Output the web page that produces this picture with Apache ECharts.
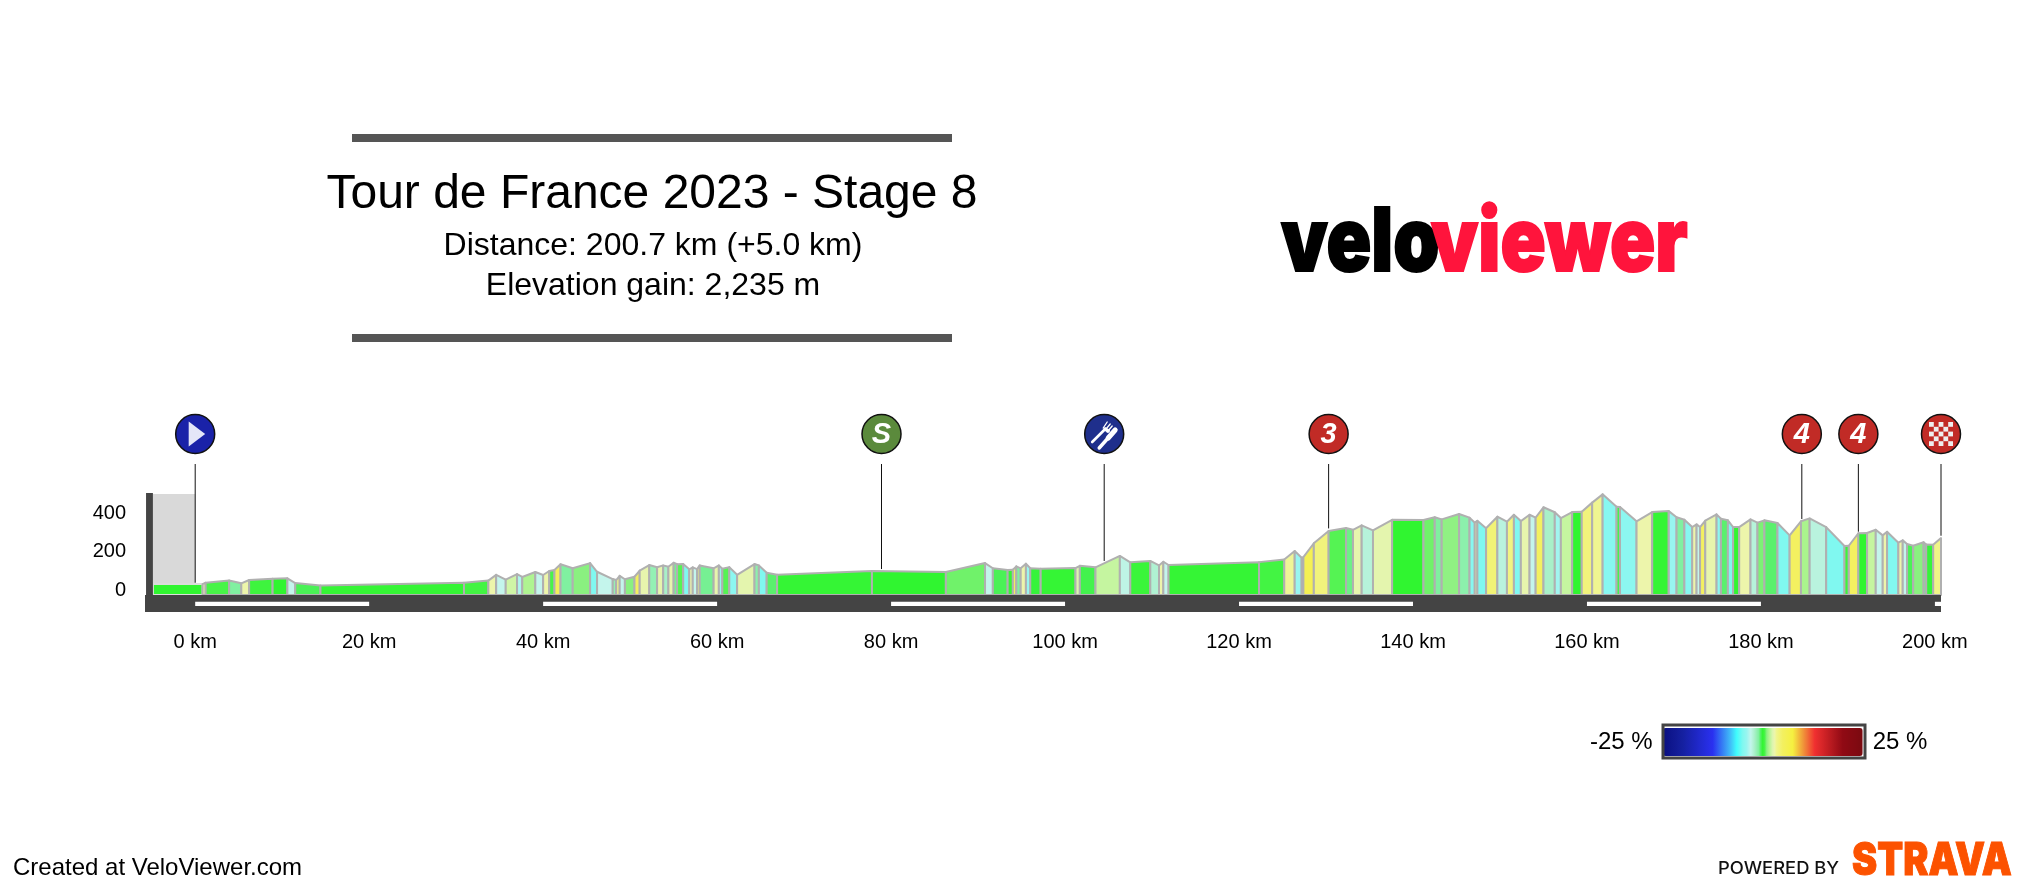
<!DOCTYPE html>
<html>
<head>
<meta charset="utf-8">
<title>Tour de France 2023 - Stage 8</title>
<script src="https://cdn.jsdelivr.net/npm/echarts@6/dist/echarts.min.js"></script>
<style>
  html, body { margin: 0; padding: 0; background: #fff; }
  #chart { width: 2032px; height: 894px; }
</style>
</head>
<body>
<div id="chart"></div>
<script>
// distance along the stage (km) at each profile break
var kmStops = [-4.86, 0.85, 1.2, 3.9, 5.3, 6.2, 8.9, 10.6, 11.5, 14.4, 30.9, 33.7, 34.6, 35.7, 37.0, 37.6, 39.1, 40.0, 40.7, 41.3, 42.0, 43.4, 45.4, 46.2, 48.0, 48.4, 48.8, 49.4, 50.5, 51.1, 52.2, 53.1, 53.8, 54.4, 55.0, 55.4, 56.1, 56.8, 57.2, 57.7, 58.0, 59.6, 60.2, 60.6, 61.4, 62.3, 64.3, 64.8, 65.7, 66.9, 77.8, 86.3, 90.8, 91.7, 93.4, 94.0, 94.4, 94.9, 95.5, 96.0, 97.2, 101.2, 101.7, 103.5, 106.3, 107.5, 109.8, 110.8, 111.3, 111.9, 122.3, 125.2, 126.4, 127.2, 127.4, 128.6, 130.3, 132.3, 133.1, 134.1, 135.4, 137.6, 141.2, 142.5, 143.3, 145.3, 146.5, 147.1, 147.4, 148.4, 149.7, 150.8, 151.6, 152.4, 153.4, 154.1, 155.0, 156.3, 157.0, 158.3, 159.4, 160.6, 161.8, 163.4, 163.8, 165.7, 167.5, 169.4, 170.3, 171.2, 172.1, 172.6, 173.0, 173.6, 174.9, 175.4, 176.2, 176.8, 177.5, 178.8, 179.6, 180.4, 181.9, 183.3, 184.6, 185.6, 187.5, 189.6, 190.1, 191.2, 192.2, 193.2, 194.0, 194.5, 195.8, 196.3, 196.8, 197.5, 198.7, 199.0, 199.8, 200.7];
// elevation (m) at each break
var elevations = [31, 31, 38, 50, 35, 52, 59, 61, 36, 24, 38, 49, 79, 54, 83, 68, 94, 78, 99, 104, 134, 113, 140, 95, 57, 52, 74, 56, 69, 101, 130, 118, 128, 121, 142, 134, 135, 108, 118, 109, 128, 113, 128, 111, 119, 79, 135, 128, 90, 79, 99, 94, 140, 113, 104, 105, 123, 113, 137, 113, 111, 114, 126, 118, 177, 144, 151, 128, 147, 130, 145, 159, 203, 168, 171, 243, 307, 322, 313, 336, 310, 365, 364, 378, 367, 395, 376, 350, 360, 321, 381, 355, 391, 358, 391, 376, 430, 404, 374, 405, 407, 454, 497, 433, 431, 357, 405, 410, 378, 365, 327, 341, 327, 360, 393, 370, 362, 327, 327, 367, 350, 362, 348, 284, 357, 372, 327, 229, 230, 295, 296, 313, 284, 303, 246, 258, 239, 230, 248, 237, 235, 270];
// gradient (%) of the segment that ends at each following break
var grades = [0, 3, 0.5, -1, 3, 0.3, 0, -3, -0.4, 0.1, 0.4, 3, -3, 2.2, -3.5, 1.6, -3, 3, 0.5, 5.5, -1, 1, -5, -3, -1.5, 3.5, -3, 1, 5, 2.8, -1.5, 2.8, -2, 2.8, -0.9, 0.6, -5, 3, -3, 4, -0.9, 2.8, -4, 0.6, -4.5, 2.7, -1.3, -5, -0.6, 0.1, 0, 0.8, -3, -0.4, 0.1, 5, -1, 3, -4, -0.1, 0.1, 2.5, -0.3, 2, -2.8, 0.2, -2.3, 3, -3, 0.1, 0.4, 3.3, -4, 0.5, 6, 4, 0.6, -0.8, 2.8, -2.5, 2.7, 0, 0.8, -1, 1.1, -1.3, -4.7, 3, -5, 4.2, -2.6, 3.8, -5, 2.8, -3, 5, -2, -3.8, 2, 0, 4, 3.4, -4.7, -0.3, -4.5, 3, 0.1, -4, -1, -4.7, 3, -3, 5, 2.8, -4.6, -0.6, -5, 0, 3, -2.5, 0.9, -0.6, -5, 5, 1.5, -2.6, -5, 0.2, 5, 0, 2, -3, 3, -4.9, 3, -3, -0.4, 1, -0.9, -0.1, 3.6];

var kmTicks = [0, 20, 40, 60, 80, 100, 120, 140, 160, 180, 200];
var elevTicks = [0, 200, 400];
var kmStripes = [[0, 20], [40, 60], [80, 100], [120, 140], [160, 180], [200, 200.7]];
var neutralZone = [-4.86, 0];

var markerKm = [0, 78.9, 104.5, 130.3, 184.7, 191.2, 200.7];
var markerElev = [38, 109, 151, 320, 369, 303, 282];
var markerKind = ['start', 'sprint', 'feed', '3', '4', '4', 'finish'];

// grade -> colour stops
var rampGrades = [-25, -20, -12.5, -8, -6.5, -5, -4, -3, -2, -1, -0.5, 0, 0.5, 1, 1.6, 2.2, 2.8, 3.5, 5, 7.5, 10, 13, 20, 25];
var rampColors = ['#0a0f80', '#1520a0', '#2a30f0', '#40c0f8', '#40fcfc', '#80f8f0', '#98f5f0', '#c4f5ec', '#a8f0c8', '#80f0a0', '#50f060', '#30f530', '#48f448', '#8af080', '#b0f590', '#d0f5a8', '#ecf5b8', '#f0f58a', '#f3f060', '#f5f040', '#f09a3a', '#f03030', '#900a14', '#7a0a10'];

var FONT = '"Liberation Sans", Arial, sans-serif';
var HEAVY = 'Inter, Lato, "Liberation Sans", sans-serif';
var KM_MIN = -5.77, KM_MAX = 200.7, ELEV_MIN = -114, ELEV_MAX = 504;
var BASE_ELEV = -26;   // top of the dark road band
var STRIPE_TOP = -61, STRIPE_BOTTOM = -83;
var NEUTRAL_TOP = 499;
var MARKER_Y = 434, MARKER_R = 19.5, STEM_TOP = 464;

function expandRamp() {
  var out = [];
  for (var g = -25; g <= 25; g += 0.5) {
    var i = 0;
    while (i < rampGrades.length - 2 && g > rampGrades[i + 1]) i++;
    var t = (g - rampGrades[i]) / (rampGrades[i + 1] - rampGrades[i]);
    out.push(echarts.color.lerp(t, [rampColors[i], rampColors[i + 1]]));
  }
  return out;
}

var segments = grades.map(function (g, i) {
  return [kmStops[i], kmStops[i + 1], elevations[i], elevations[i + 1], g];
});
var markers = markerKm.map(function (km, i) { return [km, markerElev[i], i]; });

function box(api, x0, y0, x1, y1, fill) {
  var a = api.coord([x0, y0]), b = api.coord([x1, y1]);
  return {
    type: 'rect',
    shape: { x: a[0], y: a[1], width: b[0] - a[0], height: b[1] - a[1] },
    style: { fill: fill }
  };
}

function renderNeutral(params, api) {
  return box(api, neutralZone[0], NEUTRAL_TOP, neutralZone[1], elevations[0], '#d9d9d9');
}

function renderSegment(params, api) {
  var x0 = api.value(0), x1 = api.value(1);
  var a = api.coord([x0, api.value(2)]), b = api.coord([x1, api.value(3)]);
  var c = api.coord([x1, BASE_ELEV]), d = api.coord([x0, BASE_ELEV]);
  return {
    type: 'polygon',
    shape: { points: [a, b, c, d] },
    style: {
      fill: api.visual('color'),
      stroke: params.dataIndex === 0 ? '#dcdcdc' : '#b0b0b0',
      lineWidth: 2,
      lineJoin: 'round'
    }
  };
}

function renderFrame(params, api) {
  return {
    type: 'group',
    children: [
      box(api, KM_MIN, BASE_ELEV, KM_MAX, ELEV_MIN, '#444'),
      box(api, KM_MIN + 0.12, ELEV_MAX, neutralZone[0], BASE_ELEV, '#444')
    ]
  };
}

function renderStripe(params, api) {
  return box(api, api.value(0), STRIPE_TOP, api.value(1), STRIPE_BOTTOM, '#fff');
}

function checker(cx, cy) {
  var cells = [], size = 4.8;
  for (var r = 0; r < 5; r++) {
    for (var c = 0; c < 5; c++) {
      if ((r + c) % 2 === 0) {
        cells.push({
          type: 'rect',
          shape: { x: cx - 12 + c * size, y: cy - 12 + r * size, width: size, height: size },
          style: { fill: '#eee' }
        });
      }
    }
  }
  return cells;
}

function stroke(x, y, x1, y1, x2, y2, width) {
  return {
    type: 'line',
    shape: { x1: x + x1, y1: y + y1, x2: x + x2, y2: y + y2 },
    style: { stroke: '#fff', lineWidth: width, lineCap: 'round' }
  };
}

function markerIcon(kind, x) {
  var y = MARKER_Y;
  if (kind === 'start') {
    return [{ type: 'polygon', shape: { points: [[x - 6.5, y - 12.5], [x + 10, y], [x - 6.5, y + 12.5]] }, style: { fill: '#e4e6f8' } }];
  }
  if (kind === 'finish') return checker(x, y);
  if (kind === 'feed') {
    return [
      stroke(x, y, -12, 8, 1, -5, 2.6),      // fork handle
      stroke(x, y, 1, -5, 4, -3, 3.5),
      stroke(x, y, -1, -6, 3, -12, 1.3),     // tines
      stroke(x, y, 1, -4, 6, -10, 1.3),
      stroke(x, y, 3, -2, 8, -8, 1.3),
      stroke(x, y, -5, 14, 3, 5, 3.4),       // knife
      stroke(x, y, 4, 4, 11, -4, 5)
    ];
  }
  return [{
    type: 'text',
    style: {
      text: kind === 'sprint' ? 'S' : kind,
      x: x, y: y + 1,
      fill: '#fff',
      font: 'italic bold 29px ' + FONT,
      align: 'center',
      verticalAlign: 'middle'
    }
  }];
}

function renderMarker(params, api) {
  var p = api.coord([api.value(0), api.value(1)]);
  var x = p[0];
  var kind = markerKind[api.value(2)];
  var fills = { start: '#1a22a8', sprint: '#5b8a3c', feed: '#1f2f8c' };
  return {
    type: 'group',
    children: [
      { type: 'line', shape: { x1: x, y1: STEM_TOP, x2: x, y2: p[1] }, style: { stroke: '#111', lineWidth: 1 } },
      { type: 'circle', shape: { cx: x, cy: MARKER_Y, r: MARKER_R }, style: { fill: fills[kind] || '#c12b26', stroke: '#111', lineWidth: 1.5 } }
    ].concat(markerIcon(kind, x))
  };
}

function rule(y) {
  return { type: 'rect', shape: { x: 352, y: y, width: 600, height: 8 }, style: { fill: '#555' } };
}

var option = {
  backgroundColor: '#fff',
  animation: false,
  textStyle: { fontFamily: FONT },
  title: [
    { text: 'Tour de France 2023 - Stage 8', left: 647, top: 166, textAlign: 'center', textStyle: { fontSize: 48, fontWeight: 'normal', color: '#000', fontFamily: FONT } },
    { text: 'Distance: 200.7 km (+5.0 km)', left: 648, top: 225, textAlign: 'center', textStyle: { fontSize: 32, fontWeight: 'normal', color: '#000', fontFamily: FONT } },
    { text: 'Elevation gain: 2,235 m', left: 648, top: 265, textAlign: 'center', textStyle: { fontSize: 32, fontWeight: 'normal', color: '#000', fontFamily: FONT } }
  ],
  grid: { left: 145, top: 493, width: 1796, height: 119 },
  xAxis: {
    type: 'value',
    min: KM_MIN,
    max: KM_MAX,
    axisLine: { show: false },
    axisTick: { show: false },
    splitLine: { show: false },
    axisLabel: { customValues: kmTicks, formatter: '{value} km', fontSize: 20, color: '#000', margin: 20, fontFamily: FONT, hideOverlap: false }
  },
  yAxis: {
    type: 'value',
    min: ELEV_MIN,
    max: ELEV_MAX,
    axisLine: { show: false },
    axisTick: { show: false },
    splitLine: { show: false },
    axisLabel: { customValues: elevTicks, fontSize: 20, color: '#000', margin: 19, fontFamily: FONT }
  },
  visualMap: {
    type: 'continuous',
    seriesIndex: 1,
    dimension: 4,
    min: -25,
    max: 25,
    orient: 'horizontal',
    left: 1590,
    top: 728,
    itemWidth: 28,
    itemHeight: 200,
    padding: 0,
    text: ['25 %', '-25 %'],
    textGap: 10,
    textStyle: { fontSize: 24, color: '#000', fontFamily: FONT },
    hoverLink: false,
    inRange: { color: expandRamp() }
  },
  series: [
    { type: 'custom', silent: true, renderItem: renderNeutral, data: [[0]] },
    { type: 'custom', silent: true, renderItem: renderSegment, data: segments },
    { type: 'custom', silent: true, renderItem: renderFrame, data: [[0]] },
    { type: 'custom', silent: true, renderItem: renderStripe, data: kmStripes },
    { type: 'custom', silent: true, renderItem: renderMarker, data: markers }
  ],
  graphic: [
    rule(134),
    rule(334),
    { type: 'rect', z: 100, shape: { x: 1663, y: 725, width: 202, height: 33 }, style: { fill: 'none', stroke: '#444', lineWidth: 3 } },
    { type: 'text', x: 1281, y: 201, scaleX: 0.84, style: { text: 'velo', fill: '#000', stroke: '#000', lineWidth: 2, font: '900 88px ' + HEAVY } },
    { type: 'text', x: 1431, y: 201, scaleX: 0.85, style: { text: 'viewer', fill: '#ff143c', stroke: '#ff143c', lineWidth: 2, font: '900 88px ' + HEAVY } },
    { type: 'text', x: 13, y: 868, style: { text: 'Created at VeloViewer.com', fill: '#000', font: '24px ' + FONT, verticalAlign: 'middle' } },
    { type: 'text', x: 1718, y: 869, scaleX: 1.08, style: { text: 'POWERED BY', fill: '#111', font: '500 17px ' + HEAVY, verticalAlign: 'middle' } },
    { type: 'text', x: 1852, y: 839, scaleX: 0.84, style: { text: 'STRAVA', fill: '#fc5200', stroke: '#fc5200', lineWidth: 1, font: '900 45px ' + HEAVY } }
  ]
};

var chart = echarts.init(document.getElementById('chart'));
chart.setOption(option);
</script>
</body>
</html>
